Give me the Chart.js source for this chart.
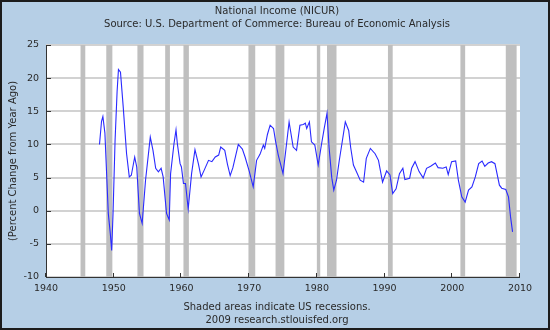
<!DOCTYPE html>
<html>
<head>
<meta charset="utf-8">
<script src="https://cdn.jsdelivr.net/npm/chart.js@4.4.1/dist/chart.umd.min.js"></script>
<style>
  html, body { margin: 0; padding: 0; background: #b6cfe6; }
  #wrap { width: 550px; height: 330px; }
</style>
</head>
<body>
<div id="wrap"><canvas id="chart" width="550" height="330"></canvas></div>
<script>
// National Income (NICUR), percent change from year ago
const years = [
  1947.9, 1948.2, 1948.4, 1948.7, 1949.2, 1949.5, 1949.7, 1949.9, 1950.2, 1950.5,
  1950.7, 1951.0, 1951.4, 1951.9, 1952.3, 1952.6, 1953.1, 1953.4, 1953.8, 1954.2,
  1954.7, 1955.4, 1955.8, 1956.2, 1956.6, 1957.0, 1957.3, 1957.8, 1958.2, 1958.4,
  1958.9, 1959.2, 1959.4, 1959.8, 1960.0, 1960.3, 1960.6, 1961.0, 1961.5, 1962.0,
  1962.5, 1962.9, 1963.4, 1964.0, 1964.5, 1965.0, 1965.5, 1965.8, 1966.4, 1966.8,
  1967.2, 1967.6, 1968.4, 1969.0, 1969.4, 1970.0, 1970.6, 1971.1, 1971.6, 1972.1,
  1972.3, 1972.7, 1973.1, 1973.6, 1973.9, 1974.3, 1975.0, 1975.4, 1975.9, 1976.5,
  1977.0, 1977.5, 1978.0, 1978.3, 1978.5, 1978.9, 1979.2, 1979.7, 1980.2, 1980.7,
  1981.1, 1981.5, 1981.8, 1982.2, 1982.5, 1982.9, 1983.3, 1983.7, 1984.2, 1984.7,
  1985.0, 1985.4, 1985.8, 1986.4, 1986.9, 1987.3, 1987.9, 1988.6, 1989.1, 1989.7,
  1990.3, 1990.8, 1991.2, 1991.7, 1992.2, 1992.7, 1993.0, 1993.7, 1994.0, 1994.5,
  1995.1, 1995.7, 1996.2, 1996.8, 1997.5, 1997.9, 1998.6, 1999.1, 1999.4, 1999.9,
  2000.5, 2000.9, 2001.4, 2001.9, 2002.4, 2002.9, 2003.4, 2003.9, 2004.4, 2004.8,
  2005.3, 2005.8, 2006.3, 2006.96, 2007.3, 2007.9, 2008.3, 2008.6, 2008.9
];
const pctChange = [
  10.0, 13.5, 14.2, 11.7, -0.4, -3.5, -6.0, -0.4, 10.6, 18.0,
  21.3, 20.9, 15.7, 8.6, 5.1, 5.35, 8.1, 6.6, -0.4, -1.9,
  4.6, 11.1, 9.1, 6.4, 5.85, 6.4, 5.1, -0.4, -1.4, 5.6,
  10.1, 12.2, 10.1, 7.1, 6.6, 4.1, 4.1, 0.3, 5.6, 9.2,
  7.1, 5.1, 6.2, 7.6, 7.4, 8.1, 8.4, 9.6, 9.1, 7.0,
  5.3, 6.5, 10.0, 9.3, 8.1, 6.0, 3.6, 7.6, 8.5, 9.9,
  9.4, 11.5, 12.9, 12.4, 10.5, 8.4, 5.6, 9.0, 13.4, 9.6,
  9.1, 12.9, 13.0, 13.2, 12.4, 13.4, 10.4, 9.9, 6.9, 10.1,
  12.5, 14.7, 9.6, 5.0, 3.1, 4.6, 7.5, 10.1, 13.4, 12.1,
  9.5, 6.9, 6.0, 4.6, 4.3, 7.9, 9.4, 8.6, 7.6, 4.3,
  6.0, 5.4, 2.6, 3.3, 5.6, 6.4, 4.7, 4.9, 6.4, 7.4,
  5.9, 4.95, 6.4, 6.7, 7.2, 6.5, 6.4, 6.6, 5.45, 7.4,
  7.5, 4.6, 2.1, 1.3, 3.1, 3.6, 5.1, 7.1, 7.5, 6.7,
  7.2, 7.4, 7.1, 3.85, 3.4, 3.2, 2.1, -0.9, -3.2
];

// US recessions (shaded)
const recessionStart = [1945.1, 1948.9, 1953.5, 1957.6, 1960.3, 1969.9, 1973.9, 1980.0, 1981.5, 1990.5, 2001.2, 2007.9];
const recessionEnd   = [1945.8, 1949.8, 1954.4, 1958.3, 1961.1, 1970.9, 1975.2, 1980.5, 1982.9, 1991.2, 2001.9, 2009.5];

const xTickValues = [1940, 1950, 1960, 1970, 1980, 1990, 2000, 2010];
const yTickValues = [-10, -5, 0, 5, 10, 15, 20, 25];

const titleLines = ['National Income (NICUR)', 'Source: U.S. Department of Commerce: Bureau of Economic Analysis'];
const footerLines = ['Shaded areas indicate US recessions.', '2009 research.stlouisfed.org'];
const yAxisTitle = '(Percent Change from Year Ago)';

const FONT = '"DejaVu Sans", Verdana, sans-serif';
const TEXT_COLOR = '#2a2a2a';

/**
 * Background, frame and header/footer text
 */
const framePlugin = {
  id: 'frame',
  beforeDraw(chart) {
    const { ctx, width, height, chartArea: a } = chart;
    ctx.save();
    ctx.fillStyle = '#1c1c1c';
    ctx.fillRect(0, 0, width, height);
    ctx.fillStyle = '#b6cfe6';
    ctx.fillRect(2, 2, width - 4, height - 4);
    ctx.fillStyle = '#ffffff';
    ctx.fillRect(a.left, a.top, a.right - a.left, a.bottom - a.top);

    ctx.fillStyle = TEXT_COLOR;
    ctx.font = '10px ' + FONT;
    ctx.textAlign = 'center';
    ctx.textBaseline = 'middle';
    ctx.fillText(titleLines[0], 277, 11);
    ctx.fillText(titleLines[1], 277, 24);
    ctx.fillText(footerLines[0], 277, 307);
    ctx.fillText(footerLines[1], 277, 320);

    ctx.translate(13, (a.top + a.bottom) / 2);
    ctx.rotate(-Math.PI / 2);
    ctx.fillText(yAxisTitle, 0, 0);
    ctx.restore();
  }
};

/**
 * Recession shading, drawn through the x scale
 */
const recessionPlugin = {
  id: 'recessions',
  beforeDatasetsDraw(chart) {
    const { ctx, chartArea: a, scales } = chart;
    ctx.save();
    ctx.fillStyle = '#bfbfbf';
    recessionStart.forEach((start, i) => {
      const x0 = scales.x.getPixelForValue(start);
      const x1 = scales.x.getPixelForValue(recessionEnd[i]);
      ctx.fillRect(x0, a.top, x1 - x0, a.bottom - a.top);
    });
    ctx.restore();
  }
};

/**
 * Axis lines and inside tick marks
 */
const axisPlugin = {
  id: 'axes',
  afterDatasetsDraw(chart) {
    const { ctx, chartArea: a, scales } = chart;
    ctx.save();
    ctx.strokeStyle = '#333';
    ctx.lineWidth = 1;
    ctx.beginPath();
    ctx.moveTo(a.left + 0.5, a.top);
    ctx.lineTo(a.left + 0.5, a.bottom + 0.5);
    ctx.lineTo(a.right, a.bottom + 0.5);
    yTickValues.forEach(v => {
      const y = Math.round(scales.y.getPixelForValue(v)) + 0.5;
      ctx.moveTo(a.left, y);
      ctx.lineTo(a.left + 5, y);
    });
    xTickValues.forEach(v => {
      const x = Math.round(scales.x.getPixelForValue(v)) - 0.5;
      ctx.moveTo(x, a.bottom);
      ctx.lineTo(x, a.bottom - 4);
    });
    ctx.stroke();
    ctx.restore();
  }
};

new Chart(document.getElementById('chart'), {
  type: 'line',
  data: {
    datasets: [{
      label: 'NICUR',
      data: years.map((x, i) => ({ x, y: pctChange[i] })),
      borderColor: '#2a2aff',
      borderWidth: 1.1,
      pointRadius: 0,
      tension: 0,
      fill: false
    }]
  },
  options: {
    responsive: false,
    animation: false,
    layout: { padding: { top: 45, right: 30, bottom: 0, left: 0 } },
    plugins: {
      legend: { display: false },
      tooltip: { enabled: false },
      title: { display: false }
    },
    scales: {
      x: {
        type: 'linear',
        min: 1940,
        max: 2010,
        afterFit: scale => { scale.height = 53; },
        afterBuildTicks: scale => { scale.ticks = xTickValues.map(value => ({ value })); },
        grid: { display: false, drawTicks: false },
        border: { display: false },
        ticks: {
          padding: 6,
          color: TEXT_COLOR,
          font: { family: FONT, size: 9.5 },
          maxRotation: 0,
          callback: v => String(v)
        }
      },
      y: {
        min: -10,
        max: 25,
        afterFit: scale => { scale.width = 46; },
        afterBuildTicks: scale => { scale.ticks = yTickValues.map(value => ({ value })); },
        grid: { color: '#d2d2d2', lineWidth: 2, drawTicks: false },
        border: { display: false },
        ticks: {
          padding: 7,
          color: TEXT_COLOR,
          font: { family: FONT, size: 9.5 },
          callback: v => String(v)
        }
      }
    }
  },
  plugins: [framePlugin, recessionPlugin, axisPlugin]
});
</script>
</body>
</html>
